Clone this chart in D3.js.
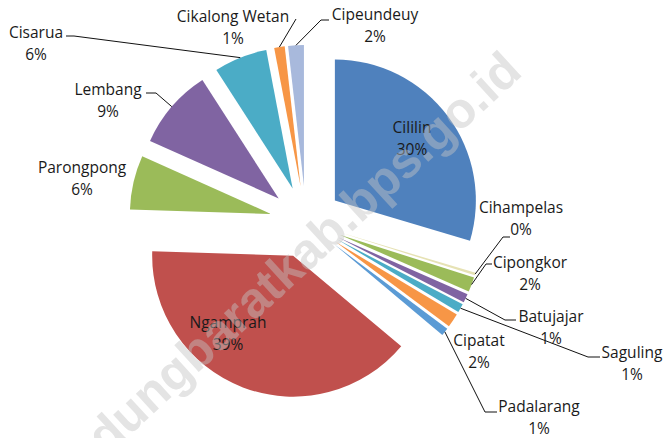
<!DOCTYPE html>
<meta charset="utf-8">
<style>
body { margin:0; background:#fff; }
svg { font-family:"Open Sans", sans-serif; font-size:15.5px; }
.lbl { fill:#1a1a1a; }
.leader { fill:none; stroke:#111; stroke-width:1; }
.mark { font-family:"Liberation Sans", Arial, sans-serif; font-weight:bold; font-size:50px; fill:#c4c4c4; opacity:0.45; }
</style>
<script src="https://d3js.org/d3.v7.min.js"></script>
<body>
<script>

// districts, in the order the pie runs (clockwise from 12 o'clock)
var districts = ["Cililin","Cihampelas","Cipongkor","Batujajar","Saguling","Cipatat",
                 "Padalarang","Ngamprah","Parongpong","Lembang","Cisarua","Cikalong Wetan","Cipeundeuy"];
var shares = [29.6, 0.3, 1.7, 1.0, 1.0, 1.6, 0.9, 39.4, 6.2, 9.2, 6.1, 1.2, 1.8];
var sliceColors = ["#4f81bd","#e6e2b4","#9bbb59","#8064a2","#4bacc6","#f79646",
                   "#5b9bd5","#c0504d","#9bbb59","#8064a2","#4bacc6","#f79646","#a8b9dc"];

//layout: label block centre + optional leader (label end, elbow)
var labelAt = {
  "Cililin":        {x:412, y:128},
  "Cihampelas":     {x:521, y:208, lead:[510,237, 503,237]},
  "Cipongkor":      {x:530, y:263, lead:[492,264, 486,264]},
  "Batujajar":      {x:551, y:317, lead:[516,320, 505,320]},
  "Saguling":       {x:632, y:353, lead:[600,357, 588,357]},
  "Cipatat":        {x:479, y:341},
  "Padalarang":     {x:539, y:407, lead:[497,412, 485,412]},
  "Ngamprah":       {x:228, y:323},
  "Parongpong":     {x:82,  y:168},
  "Lembang":        {x:108, y:90,  lead:[146,93, 156,93]},
  "Cisarua":        {x:36,  y:33,  lead:[66,36, 74,36]},
  "Cikalong Wetan": {x:233, y:17,  lead:[296,19, 296,19]},
  "Cipeundeuy":     {x:375, y:15,  lead:[329,20, 321,20]}
};

var width = 667, height = 438;
var cx = 306, cy = 222, radius = 141, explode = 36;

var svg = d3.select("body").append("svg")
    .attr("width", width)
    .attr("height", height);

var total = d3.sum(shares);
var pie = d3.pie().sort(null).value(function(d) { return d; });
var arc = d3.arc().innerRadius(0).outerRadius(radius);
var slices = pie(shares);

function mid(d) { return (d.startAngle + d.endAngle) / 2; }

var g = svg.append("g").attr("transform", "translate(" + cx + "," + cy + ")");

// exploded slices
g.selectAll(".slice")
    .data(slices)
  .enter().append("path")
    .attr("class", "slice")
    .attr("d", arc)
    .attr("fill", function(d, i) { return sliceColors[i]; })
    .attr("transform", function(d) {
      var a = mid(d);
      return "translate(" + (explode * Math.sin(a)) + "," + (-explode * Math.cos(a)) + ")";
    });

// leader lines: label -> elbow -> middle of the slice's rim
slices.forEach(function(d, i) {
  var p = labelAt[districts[i]];
  if (!p.lead) return;
  var a = mid(d), r = explode + radius;
  var ex = cx + r * Math.sin(a), ey = cy - r * Math.cos(a);
  svg.append("path")
      .attr("class", "leader")
      .attr("d", d3.line()([[p.lead[0], p.lead[1]], [p.lead[2], p.lead[3]], [ex, ey]]));
});

// name + percentage labels
var labels = svg.selectAll(".lbl")
    .data(slices)
  .enter().append("text")
    .attr("class", "lbl")
    .attr("text-anchor", "middle");
labels.append("tspan")
    .attr("x", function(d, i) { return labelAt[districts[i]].x; })
    .attr("y", function(d, i) { return labelAt[districts[i]].y + 5; })
    .text(function(d, i) { return districts[i]; });
labels.append("tspan")
    .attr("x", function(d, i) { return labelAt[districts[i]].x; })
    .attr("y", function(d, i) { return labelAt[districts[i]].y + 27; })
    .text(function(d) { return Math.round(d.value / total * 100) + "%"; });

// watermark
svg.append("text")
    .attr("class", "mark")
    .attr("text-anchor", "end")
    .attr("transform", "translate(524,74) rotate(-42.5)")
    .text("bandungbaratkab.bps.go.id");

</script>
